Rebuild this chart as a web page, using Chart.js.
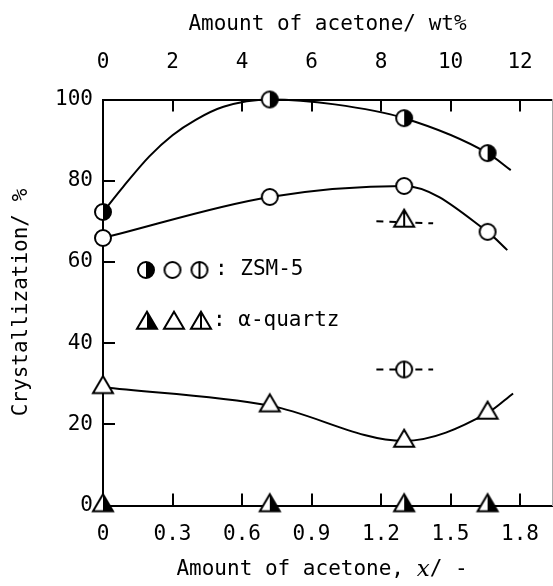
<!DOCTYPE html>
<html><head><meta charset="utf-8">
<script src="https://cdn.jsdelivr.net/npm/chart.js@4"></script>
<style>html,body{margin:0;padding:0;background:#fff}</style>
</head><body>
<canvas id="c" width="553" height="586"></canvas>
<script>
// ---- axis ticks ----
const bottomTicks = [0, 0.3, 0.6, 0.9, 1.2, 1.5, 1.8];
const bottomTickLabels = ['0', '0.3', '0.6', '0.9', '1.2', '1.5', '1.8'];
const topTicks = [0, 2, 4, 6, 8, 10, 12];
const topTickLabels = ['0', '2', '4', '6', '8', '10', '12'];
const yTicks = [0, 20, 40, 60, 80, 100];
const yTickLabels = ['0', '20', '40', '60', '80', '100'];

// ---- measured points (x = amount of acetone, x/-) ----
const xPts = [0, 0.72, 1.30, 1.66];
const zsmHalfY = [72.3, 100, 95.4, 86.8];
const zsmOpenY = [65.9, 76, 78.7, 67.4];
const qzOpenY = [29.1, 24.6, 15.9, 22.8];
const qzHalfY = [0, 0, 0, 0];
const xSingle = [1.30];
const zsmBarY = [33.5];
const qzBarY = [70.1];

// ---- drawn curves ----
const curveHalfX = [0, 0.087, 0.2, 0.3, 0.4, 0.52, 0.72, 1.0, 1.30, 1.66, 1.76];
const curveHalfY = [72.3, 78.5, 86.0, 91.2, 95.0, 98.2, 100, 98.8, 95.4, 86.8, 82.6];
const curveOpenX = [0, 0.72, 1.30, 1.66, 1.745];
const curveOpenY = [65.9, 76, 78.7, 67.4, 62.9];
const curveTriX = [0, 0.72, 1.30, 1.66, 1.77];
const curveTriY = [29.1, 24.6, 15.9, 22.8, 27.6];
const dashX = [1.18, 1.425];
const dashTriY = [70.0, 69.5];
const dashBarY = [33.5, 33.5];

const FONT = '"DejaVu Sans Mono", monospace';
const FS = 21;
const toPts = (xs, ys) => xs.map((x, i) => ({x: x, y: ys[i]}));

// ---- marker images ----
function mk(size, draw) {
  const c = document.createElement('canvas');
  c.width = size; c.height = size;
  const g = c.getContext('2d');
  g.lineWidth = 2; g.strokeStyle = '#000'; g.fillStyle = '#fff';
  draw(g, size / 2);
  return c;
}
function circleMarker(kind, r) {
  return mk(2 * r + 6, (g, c) => {
    g.beginPath(); g.arc(c, c, r, 0, 2 * Math.PI); g.fill();
    if (kind === 'half') {
      g.fillStyle = '#000';
      g.beginPath(); g.arc(c, c, r, -Math.PI / 2, Math.PI / 2); g.closePath(); g.fill();
    }
    g.beginPath(); g.arc(c, c, r, 0, 2 * Math.PI); g.stroke();
    if (kind === 'bar') { g.beginPath(); g.moveTo(c, c - r); g.lineTo(c, c + r); g.stroke(); }
  });
}
function triMarker(kind, w, h) {
  const s = Math.ceil(Math.max(w, h) * 1.6) + 6;
  return mk(s, (g, c) => {
    const top = c - 2 * h / 3, base = c + h / 3;
    g.beginPath(); g.moveTo(c, top); g.lineTo(c + w / 2, base); g.lineTo(c - w / 2, base); g.closePath(); g.fill();
    if (kind === 'half') {
      g.fillStyle = '#000';
      g.beginPath(); g.moveTo(c, top); g.lineTo(c + w / 2, base); g.lineTo(c, base); g.closePath(); g.fill();
    }
    g.lineJoin = 'miter';
    g.beginPath(); g.moveTo(c, top); g.lineTo(c + w / 2, base); g.lineTo(c - w / 2, base); g.closePath(); g.stroke();
    if (kind === 'bar') { g.beginPath(); g.moveTo(c, top); g.lineTo(c, base); g.stroke(); }
  });
}
const M = {
  cHalf: circleMarker('half', 8), cOpen: circleMarker('open', 8), cBar: circleMarker('bar', 8),
  tHalf: triMarker('half', 20, 17), tOpen: triMarker('open', 20, 17), tBar: triMarker('bar', 20, 17)
};

function lineDS(pts, dash) {
  return {type: 'line', data: pts, borderColor: '#000', borderWidth: 2, pointRadius: 0,
    cubicInterpolationMode: 'monotone', fill: false, borderDash: dash || [], order: 2, clip: false};
}
function markDS(pts, img) {
  return {type: 'scatter', data: pts, pointStyle: img, pointRadius: 9, showLine: false, order: 0, clip: false,
    borderColor: '#000', backgroundColor: '#fff'};
}

const legendPlugin = {
  id: 'inlineLegend',
  afterDraw(chart) {
    const ctx = chart.ctx;
    ctx.save();
    ctx.fillStyle = '#000';
    ctx.textBaseline = 'middle';
    ctx.textAlign = 'left';
    const rows = [
      {y: 270, imgs: [M.cHalf, M.cOpen, M.cBar], xs: [146, 172.5, 199.5], dy: 0, text: ': ZSM-5', tx: 215},
      {y: 321, imgs: [M.tHalf, M.tOpen, M.tBar], xs: [147, 174, 201], dy: 2, text: ': \u03B1-quartz', tx: 213}
    ];
    rows.forEach(r => {
      r.imgs.forEach((img, i) => ctx.drawImage(img, r.xs[i] - img.width / 2, r.y + r.dy - img.height / 2));
      ctx.font = FS + 'px ' + FONT;
      ctx.fillText(r.text, r.tx, r.y);
    });
    const parts = [
      {t: 'Amount of acetone, ', f: FS + 'px ' + FONT},
      {t: 'x', f: 'italic 23px "DejaVu Serif", serif'},
      {t: '/ -', f: FS + 'px ' + FONT}
    ];
    let total = 0;
    parts.forEach(p => { ctx.font = p.f; p.w = ctx.measureText(p.t).width; total += p.w; });
    let x = 322 - total / 2;
    parts.forEach(p => { ctx.font = p.f; ctx.fillText(p.t, x, 570); x += p.w; });
    ctx.restore();
  }
};

const tickFont = {family: FONT, size: FS};
const gridOpts = {drawOnChartArea: false, tickLength: -12, color: '#000', lineWidth: 2};
const noPad = s => { s.paddingLeft = 0; s.paddingRight = 0; s.paddingTop = 0; s.paddingBottom = 0; };

new Chart(document.getElementById('c'), {
  data: {
    datasets: [
      lineDS(toPts(curveHalfX, curveHalfY)),
      lineDS(toPts(curveOpenX, curveOpenY)),
      lineDS(toPts(curveTriX, curveTriY)),
      lineDS(toPts(dashX, dashTriY), [7, 6]),
      lineDS(toPts(dashX, dashBarY), [7, 6]),
      markDS(toPts(xPts, zsmHalfY), M.cHalf),
      markDS(toPts(xPts, zsmOpenY), M.cOpen),
      markDS(toPts(xPts, qzOpenY), M.tOpen),
      markDS(toPts(xPts, qzHalfY), M.tHalf),
      markDS(toPts(xSingle, zsmBarY), M.cBar),
      markDS(toPts(xSingle, qzBarY), M.tBar)
    ]
  },
  options: {
    responsive: false,
    animation: false,
    devicePixelRatio: 1,
    layout: {padding: 0, autoPadding: false},
    plugins: {legend: {display: false}, tooltip: {enabled: false}},
    scales: {
      x: {
        type: 'linear', position: 'bottom', min: 0, max: 1.938,
        afterBuildTicks: s => { s.ticks = bottomTicks.map(v => ({value: v})); },
        ticks: {callback: (v, i) => bottomTickLabels[i], font: tickFont, color: '#000', padding: 28, maxRotation: 0, autoSkip: false},
        grid: gridOpts,
        border: {color: '#000', width: 2},
        afterFit: s => { s.height = 80.5; noPad(s); }
      },
      xTop: {
        type: 'linear', position: 'top', min: 0, max: 12.92,
        afterBuildTicks: s => { s.ticks = topTicks.map(v => ({value: v})); },
        ticks: {callback: (v, i) => topTickLabels[i], font: tickFont, color: '#000', padding: 36.5, maxRotation: 0, autoSkip: false},
        grid: gridOpts,
        border: {color: '#000', width: 2},
        title: {display: true, text: 'Amount of acetone/ wt%', font: tickFont, color: '#000', padding: {top: 12.4, bottom: 0}},
        afterFit: s => { s.height = 99.5; noPad(s); }
      },
      y: {
        type: 'linear', position: 'left', min: 0, max: 100,
        afterBuildTicks: s => { s.ticks = yTicks.map(v => ({value: v})); },
        ticks: {callback: (v, i) => yTickLabels[i], font: tickFont, color: '#000', padding: 22, autoSkip: false},
        grid: gridOpts,
        border: {color: '#000', width: 2},
        title: {display: true, text: 'Crystallization/ %', font: tickFont, color: '#000', padding: {top: 9.4, bottom: 0}},
        afterFit: s => { s.width = 103; noPad(s); }
      },
      y2: {
        type: 'linear', position: 'right', min: 0, max: 100,
        ticks: {display: false},
        grid: {display: false, drawTicks: false},
        border: {color: '#aaa', width: 1},
        afterFit: s => { s.width = 1; noPad(s); }
      }
    }
  },
  plugins: [legendPlugin]
});
</script>
</body></html>
